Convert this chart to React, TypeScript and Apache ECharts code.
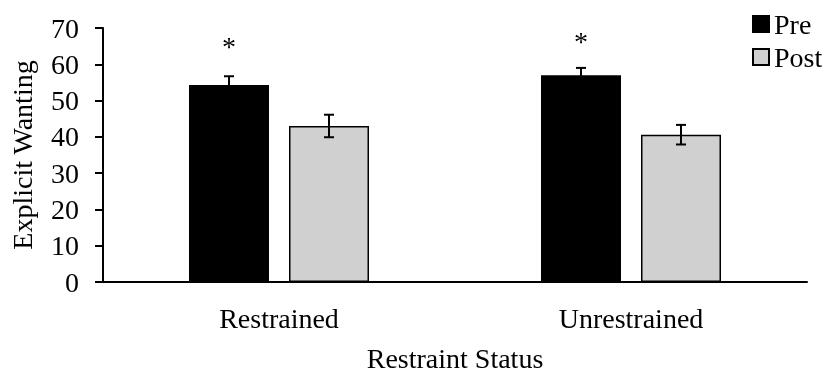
import React, { useEffect, useRef } from "react";
import * as echarts from "echarts";

const categories = ["Restrained", "Unrestrained"];
const seriesNames = ["Pre", "Post"];
const preValues = [54.3, 57.0];
const postValues = [43.0, 40.6];
const preErrors = [2.4, 2.0];
const postErrors = [3.1, 2.7];
const yTicks = [0, 10, 20, 30, 40, 50, 60, 70];
const sigMarkers = [64.8, 66.2]; // "*" positions above Pre bars

const FONT = "'Liberation Serif', 'Times New Roman', serif";

export default function App() {
  const ref = useRef<HTMLDivElement>(null);
  useEffect(() => {
    if (!ref.current) return;
    const chart = echarts.init(ref.current, undefined, { renderer: "svg" });
    const barWidth = 80;
    const gapPx = 20;
    const shift = (barWidth + gapPx) / 2;

    const errData: any[] = [];
    categories.forEach((_, i) => {
      errData.push([i, preValues[i], preErrors[i], -1]);
      errData.push([i, postValues[i], postErrors[i], 1]);
    });
    const sigData = categories.map((_, i) => [i, sigMarkers[i]]);

    chart.setOption({
      animation: false,
      textStyle: { fontFamily: FONT },
      grid: { left: 101, right: 18, top: 28, bottom: 88, containLabel: false },
      legend: {
        data: seriesNames,
        orient: "vertical",
        left: 752,
        top: 10,
        padding: 0,
        itemWidth: 16,
        itemHeight: 16,
        itemGap: 5,
        icon: "rect",
        textStyle: { fontFamily: FONT, fontSize: 28, color: "#000" },
        selectedMode: false,
      },
      xAxis: {
        type: "category",
        data: categories,
        name: "Restraint Status",
        nameLocation: "middle",
        nameGap: 62,
        nameTextStyle: { fontFamily: FONT, fontSize: 28, color: "#000" },
        axisLine: { lineStyle: { color: "#000", width: 2 } },
        axisTick: { show: false },
        axisLabel: { fontFamily: FONT, fontSize: 28, color: "#000", margin: 22 },
      },
      yAxis: {
        type: "value",
        min: yTicks[0],
        max: yTicks[yTicks.length - 1],
        interval: 10,
        name: "Explicit Wanting",
        nameLocation: "middle",
        nameGap: 67,
        nameTextStyle: { fontFamily: FONT, fontSize: 28, color: "#000" },
        axisLine: { show: true, lineStyle: { color: "#000", width: 2 } },
        axisTick: { show: true, length: 8, lineStyle: { color: "#000", width: 2 } },
        axisLabel: { fontFamily: FONT, fontSize: 28, color: "#000", margin: 24 },
        splitLine: { show: false },
      },
      series: [
        {
          name: "Pre",
          type: "bar",
          data: preValues,
          barWidth: barWidth,
          barGap: "25%",
          itemStyle: { color: "#000", borderColor: "#000", borderWidth: 1.5 },
        },
        {
          name: "Post",
          type: "bar",
          data: postValues,
          barWidth: barWidth,
          barGap: "25%",
          itemStyle: { color: "#D0D0D0", borderColor: "#000", borderWidth: 1.5 },
        },
        {
          type: "custom",
          name: "errors",
          data: errData,
          z: 10,
          renderItem: (params: any, api: any) => {
            const i = api.value(0);
            const v = api.value(1);
            const e = api.value(2);
            const side = api.value(3);
            const top = api.coord([i, v + e]);
            const bot = api.coord([i, v - e]);
            const x = top[0] + side * shift;
            const cap = 5;
            const style = { stroke: "#000", lineWidth: 2 };
            return {
              type: "group",
              children: [
                { type: "line", shape: { x1: x, y1: top[1], x2: x, y2: bot[1] }, style },
                { type: "line", shape: { x1: x - cap, y1: top[1], x2: x + cap, y2: top[1] }, style },
                { type: "line", shape: { x1: x - cap, y1: bot[1], x2: x + cap, y2: bot[1] }, style },
              ],
            };
          },
        },
        {
          type: "custom",
          name: "sig",
          data: sigData,
          z: 10,
          renderItem: (params: any, api: any) => {
            const p = api.coord([api.value(0), api.value(1)]);
            return {
              type: "text",
              x: p[0] - shift,
              y: p[1],
              style: {
                text: "*",
                fontFamily: FONT,
                fontSize: 28,
                fill: "#000",
                align: "center",
                verticalAlign: "middle",
              },
            };
          },
        },
      ],
    });
    return () => chart.dispose();
  }, []);
  return (
    <div
      ref={ref}
      style={{ position: "fixed", left: 0, top: 0, width: 825, height: 377 }}
    />
  );
}
